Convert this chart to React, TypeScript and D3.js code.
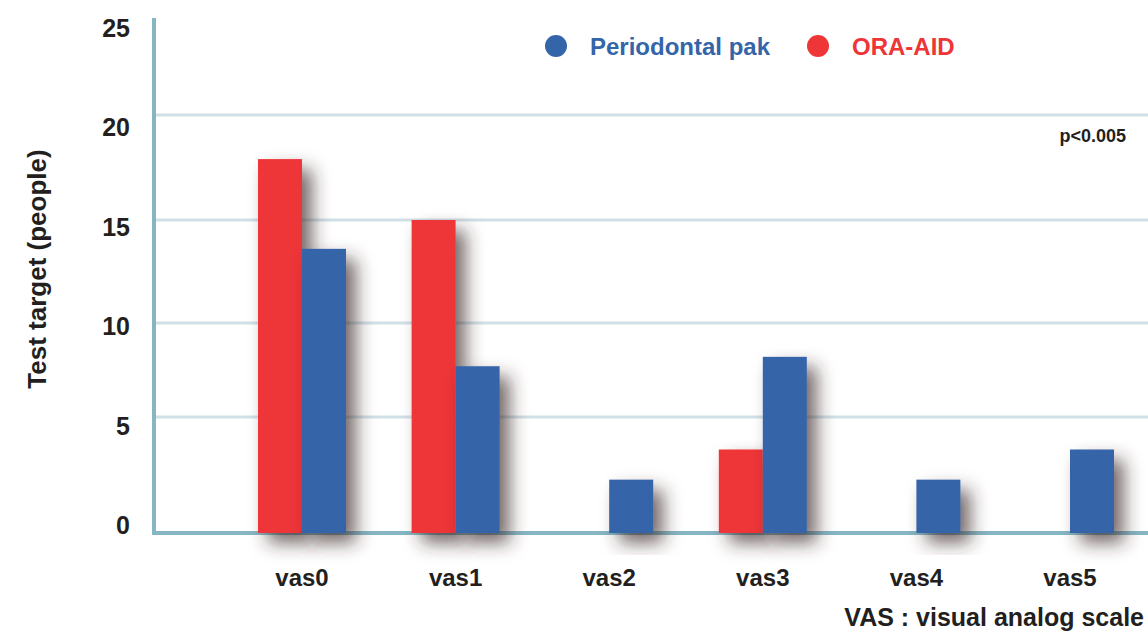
import React, { useEffect, useRef } from "react";
import * as d3 from "d3";

const categories = ["vas0", "vas1", "vas2", "vas3", "vas4", "vas5"];
const oraAid = [17.9, 15, 0, 3.6, 0, 0];
const periodontalPak = [13.6, 7.7, 2.3, 8.2, 2.3, 3.6];
const yTicks = [0, 5, 10, 15, 20, 25];
const seriesNames = ["Periodontal pak", "ORA-AID"];

const RED = "#ee3537";
const BLUE = "#3465a8";

export default function App() {
  const ref = useRef<SVGSVGElement>(null);

  useEffect(() => {
    const width = 1148;
    const height = 644;
    const svg = d3.select(ref.current).attr("width", width).attr("height", height);
    svg.selectAll("*").remove();

    const font = "'Liberation Sans', Arial, sans-serif";
    const left = 154;
    const baseY = 533;

    // the printed axis is not quite even, so the scale follows the gridlines
    const y = d3.scaleLinear().domain(yTicks).range([baseY, 417, 323, 220, 115, 10]);
    const yLabel = d3.scaleLinear().domain([0, 25]).range([525, 28]);
    const x = d3.scalePoint<string>().domain(categories).range([302, 1070]);
    const barW = 44;

    const defs = svg.append("defs");
    const f = defs.append("filter").attr("id", "shadow")
      .attr("x", "-80%").attr("y", "-20%").attr("width", "300%").attr("height", "160%");
    f.append("feDropShadow").attr("dx", 10).attr("dy", 10).attr("stdDeviation", 9)
      .attr("flood-color", "#3a2828").attr("flood-opacity", 0.7);

    // gridlines
    svg.selectAll(".grid").data(yTicks.filter(d => d > 0 && d < 25)).join("line")
      .attr("class", "grid")
      .attr("x1", left).attr("x2", width)
      .attr("y1", d => y(d)).attr("y2", d => y(d))
      .attr("stroke", "#cfe0e6").attr("stroke-width", 3);

    // axes lines
    svg.append("line").attr("x1", left).attr("x2", left).attr("y1", 18).attr("y2", baseY + 2)
      .attr("stroke", "#86b6c4").attr("stroke-width", 4);
    svg.append("line").attr("x1", left - 2).attr("x2", width).attr("y1", baseY).attr("y2", baseY)
      .attr("stroke", "#86b6c4").attr("stroke-width", 4);

    // y tick labels
    svg.selectAll(".ytick").data(yTicks).join("text")
      .attr("class", "ytick")
      .attr("x", 130).attr("y", d => yLabel(d)).attr("dy", "0.36em")
      .attr("text-anchor", "end")
      .style("font-family", font).style("font-weight", "bold").style("font-size", "25px")
      .attr("fill", "#231f20")
      .text(d => d);

    // bars
    const groups = svg.selectAll(".grp").data(categories).join("g").attr("class", "grp");
    groups.each(function (c, i) {
      const g = d3.select(this);
      const cx = x(c) as number;
      if (oraAid[i] > 0) {
        g.append("rect").attr("x", cx - barW).attr("width", barW)
          .attr("y", y(oraAid[i])).attr("height", baseY - y(oraAid[i]))
          .attr("fill", RED).attr("filter", "url(#shadow)");
      }
      if (periodontalPak[i] > 0) {
        g.append("rect").attr("x", cx).attr("width", barW)
          .attr("y", y(periodontalPak[i])).attr("height", baseY - y(periodontalPak[i]))
          .attr("fill", BLUE).attr("filter", "url(#shadow)");
      }
    });

    // x labels
    svg.selectAll(".xlab").data(categories).join("text")
      .attr("class", "xlab")
      .attr("x", d => x(d) as number).attr("y", 586)
      .attr("text-anchor", "middle")
      .style("font-family", font).style("font-weight", "bold").style("font-size", "24px")
      .attr("fill", "#231f20")
      .text(d => d);

    // legend
    const legend = [
      { name: seriesNames[0], color: BLUE, cx: 556 },
      { name: seriesNames[1], color: RED, cx: 818 },
    ];
    const lg = svg.selectAll(".leg").data(legend).join("g").attr("class", "leg");
    lg.append("circle").attr("cx", d => d.cx).attr("cy", 46).attr("r", 11).attr("fill", d => d.color);
    lg.append("text").attr("x", d => d.cx + 34).attr("y", 55)
      .style("font-family", font).style("font-weight", "bold").style("font-size", "24px")
      .attr("fill", d => d.color)
      .text(d => d.name);

    svg.append("text").attr("x", 1126).attr("y", 142).attr("text-anchor", "end")
      .style("font-family", font).style("font-weight", "bold").style("font-size", "18px")
      .attr("fill", "#231f20").text("p<0.005");

    svg.append("text")
      .attr("transform", "rotate(-90)")
      .attr("x", -269).attr("y", 46)
      .attr("text-anchor", "middle")
      .style("font-family", font).style("font-weight", "bold").style("font-size", "26px")
      .attr("fill", "#231f20")
      .text("Test target (people)");

    svg.append("text").attr("x", 1144).attr("y", 626).attr("text-anchor", "end")
      .style("font-family", font).style("font-weight", "bold").style("font-size", "25px")
      .attr("fill", "#231f20").text("VAS : visual analog scale");
  }, []);

  return (
    <svg ref={ref} style={{ position: "absolute", left: 0, top: 0, background: "#fff" }}></svg>
  );
}
